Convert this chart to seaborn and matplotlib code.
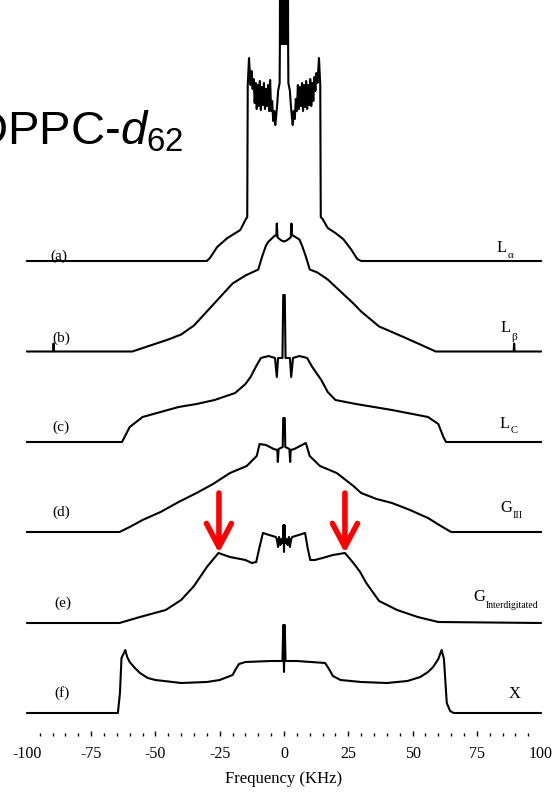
import matplotlib
matplotlib.use("Agg")
import matplotlib.pyplot as plt
import pandas as pd
import seaborn as sns

# ---------------- data (frequency in kHz, intensity above each baseline) ----------------
phases = ["a", "b", "c", "d", "e", "f"]

freq_a = [-100, -30, -28.8, -26, -22, -17, -14.8, -14.3, -14.1, -13.6,
          -13.3, -13.0, -12.6, -12.2, -11.8, -11.4, -11.0, -10.6, -10.2, -9.8, -9.4, -9.0,
          -8.6, -8.2, -7.8, -7.4, -7.0, -6.6, -6.2, -5.8, -5.4, -5.0, -4.6, -4.2, -3.8, -3.4,
          -3.0, -2.6, -2.3, -1.7, -1.6, -1.55,
          1.55, 1.6, 1.7, 2.3, 2.6, 3.0, 3.4, 3.8, 4.2, 4.6, 5.0, 5.4, 5.8, 6.2, 6.6, 7.0,
          7.4, 7.8, 8.2, 8.6, 9.0, 9.4, 9.8, 10.2, 10.6, 11.0, 11.4, 11.8, 12.2, 12.6, 13.0,
          13.3, 13.6, 14.1, 14.3, 15, 17, 20, 23, 26, 28.5, 30, 100]
int_a = [0, 0, 3, 14, 23, 31, 42, 44, 176, 203,
         188, 176, 190, 172, 182, 158, 178, 152, 176, 155, 180, 151,
         174, 156, 178, 152, 172, 155, 176, 150, 181, 150, 160, 140, 150, 136,
         146, 158, 170, 178, 216, 300,
         300, 216, 178, 170, 158, 146, 136, 150, 142, 162, 150, 176, 152, 174, 155, 178,
         150, 176, 154, 180, 152, 176, 156, 182, 155, 178, 160, 184, 170, 188, 178,
         190, 203, 176, 44, 42, 33, 28, 22, 12, 2, 0, 0]
block_a = [-1.9, 1.9]          # solid centre of the isotropic peak in (a)
block_a_from = 216

freq_b = [-100, -89.8, -89.6, -89.4, -59, -52, -45, -40, -35, -30, -25, -20, -15, -10,
          -8.5, -7, -6, -3.5, -3.0, -2.8, -2.5, -1, 0, 1, 2.6, 2.9, 3.1, 3.5, 6, 7, 8.5,
          10, 13, 17, 22, 27, 30, 37, 46, 53, 59, 89.3, 89.5, 89.7, 100]
int_b = [0, 0, 8, 0, 0, 6, 12, 17, 26, 40, 54, 68, 76, 82,
         95, 106, 110, 116, 116, 128, 114, 111, 110, 111, 114, 128, 116, 116, 112, 106, 95,
         82, 79, 72, 60, 48, 40, 25, 15, 7, 0, 0, 8, 0, 0]

freq_c = [-100, -63, -61, -60, -55, -48, -41, -34, -27, -19, -15, -13, -11, -9, -6, -3.5, -2.8,
          -2.3, -0.6, -0.3, 0.3, 0.6, 2.3, 2.8, 3.5, 6, 9, 11, 14.5, 17, 20, 28, 35, 42, 50,
          56, 60, 62, 63, 100]
int_c = [0, 0, 10, 15, 25, 30, 35, 38, 42, 49, 58, 65, 75, 84, 86, 84, 65,
         84, 84, 147, 147, 84, 84, 65, 84, 86, 84, 75, 62, 50, 42, 38, 35, 32, 28,
         25, 18, 5, 0, 0]

freq_d = [-100, -64, -60, -55, -48, -41, -34, -27.6, -21, -14.5, -10.6, -9.5, -7, -4, -2.6,
          -2.4, -2.1, -0.5, -0.3, 0.3, 0.5, 2.1, 2.4, 2.6, 4, 7, 8.5, 10, 14, 20.5, 27, 30,
          36, 42, 49, 56, 61, 65, 100]
int_d = [0, 0, 5, 12, 20, 30, 39, 48, 59, 66, 76, 88, 87, 83, 82,
         70, 83, 85, 114, 114, 85, 83, 70, 82, 83, 87, 89, 76, 66, 59, 46, 39,
         33, 29, 22, 14, 6, 0, 0]

freq_e = [-100, -64, -56, -46, -40, -35, -30, -25.5, -21, -15, -12.5, -10.8, -9.6, -8.2, -7,
          -3.2, -2.8, -2.3, -1.9, -1.4, -1.0, -0.5, -0.2, 0, 0.2, 0.5, 1.0, 1.4, 1.9, 2.3,
          2.8, 3.2, 7, 8.2, 9.2, 10.2, 12, 15, 19, 23.7, 27, 29.6, 32, 37, 44, 52, 60, 100]
int_e = [0, 0, 6, 13, 23, 37, 56, 70, 66, 63, 60, 61, 75, 90, 89,
         86, 84, 76, 86, 78, 84, 80, 98, 71, 98, 80, 84, 78, 86, 76,
         84, 86, 89, 90, 75, 63, 63, 65, 68, 70, 60, 51, 40, 22, 13, 6, 1, 0]

freq_f = [-100, -64.6, -63.8, -63.2, -61.7, -61, -60, -58, -56, -53, -50, -40, -30, -25, -20,
          -18.5, -17.5, -15, -5, -0.6, -0.3, 0, 0.3, 0.6, 5, 16, 17.5, 19, 22, 30, 40, 48, 53,
          56, 58, 60, 61.3, 62.2, 62.8, 63.3, 64.6, 66, 100]
int_f = [0, 0, 20, 55, 63, 56, 51, 45, 40, 35, 33, 30, 31, 33, 38,
         45, 49, 51, 52, 52, 88, 41, 88, 52, 52, 50, 44, 37, 33, 31, 30, 32, 36,
         41, 46, 54, 63, 54, 30, 10, 2, 0, 0]

phase_names = [("L", "\u03b1"), ("L", "\u03b2"), ("L", "C"), ("G", "III"),
               ("G", "Interdigitated"), ("X", "")]
arrow_freqs = [-25.3, 23.7]
tick_values = list(range(-100, 101, 25))
tick_labels = [str(v) for v in tick_values]
minor_values = [v for v in range(-95, 96, 5) if v % 25 != 0]

# ---------------- layout ----------------
W, H = 560, 800
X0, PXK = 284.0, 2.5714            # pixel of 0 kHz, pixels per kHz
AX_BOTTOM = 736                    # pixel row of the tick line
baselines_px = [261, 351.5, 442, 532, 623, 713]
offsets = [AX_BOTTOM - b for b in baselines_px]

sns.set_style("white")
plt.rcParams["font.family"] = ["Liberation Serif", "DejaVu Serif"]
plt.rcParams["text.color"] = "black"
plt.rcParams["axes.labelcolor"] = "black"
plt.rcParams["xtick.color"] = "black"
plt.rcParams["mathtext.fontset"] = "custom"
plt.rcParams["mathtext.rm"] = "Liberation Sans"
plt.rcParams["mathtext.it"] = "Liberation Sans:italic"

fig = plt.figure(figsize=(W / 100, H / 100), dpi=100)
fig.patch.set_facecolor("white")
ax = fig.add_axes([0, (H - AX_BOTTOM) / H, 1, AX_BOTTOM / H])
ax.set_xlim(-X0 / PXK, (W - X0) / PXK)
ax.set_ylim(0, AX_BOTTOM)

all_f = [freq_a, freq_b, freq_c, freq_d, freq_e, freq_f]
all_i = [int_a, int_b, int_c, int_d, int_e, int_f]
rows = []
for name, fr, it, off in zip(phases, all_f, all_i, offsets):
    for f, i in zip(fr, it):
        rows.append((name, f, i + off))
df = pd.DataFrame(rows, columns=["phase", "freq", "y"])

sns.lineplot(data=df, x="freq", y="y", units="phase", estimator=None, sort=False,
             color="black", linewidth=1.5, legend=False, ax=ax)
ax.fill_between(block_a, offsets[0] + block_a_from, offsets[0] + 400, color="black", lw=0)

# arrows in (e)
for f in arrow_freqs:
    ax.annotate("", xy=(f, AX_BOTTOM - 553), xytext=(f, AX_BOTTOM - 493),
                arrowprops=dict(arrowstyle="->,head_length=0.85,head_width=0.45",
                                color="#ff0000", lw=4, shrinkA=0, shrinkB=0,
                                mutation_scale=20))

# axis
for s in ax.spines.values():
    s.set_visible(False)
ax.yaxis.set_visible(False)
ax.set_xticks(tick_values)
ax.set_xticklabels(tick_labels)
ax.set_xticks(minor_values, minor=True)
ax.tick_params(axis="x", which="major", direction="in", length=3.8, width=1.0, pad=7.5,
               labelsize=11.5, colors="black", bottom=True)
ax.tick_params(axis="x", which="minor", direction="in", length=2.3, width=1.0, bottom=True,
               colors="black")
mt = ax.xaxis.get_major_ticks()
mt[0].tick1line.set_visible(False)
mt[-1].tick1line.set_visible(False)
ax.set_xlabel("Frequency (KHz)", fontsize=12, color="black")
ax.xaxis.set_label_coords(X0 / W, -(771 - AX_BOTTOM) / AX_BOTTOM)
ax.set_ylabel("")


def ftext(px, py, s, **kw):
    fig.text(px / W, 1 - py / H, s, color="black", **kw)


# title
ftext(183, 145, r"DPPC-$\mathit{d}_{62}$", ha="right", va="baseline", fontsize=34,
      family="Liberation Sans", math_fontfamily="custom")

# letter labels
letter_pos = [(59, 256), (61, 338), (61, 427), (61, 512), (63, 603), (62, 693)]
for name, (px, py) in zip(phases, letter_pos):
    ftext(px, py, f"({name})", ha="center", va="center", fontsize=11)

# phase labels
main_pos = [(502, 248), (506, 328), (505, 424), (506, 508), (479, 597), (515, 694)]
sub_pos = [(508, 256), (511, 337), (511, 431), (513, 516), (486, 605), (0, 0)]
sub_size = [8, 8, 7.5, 7.5, 7, 7]
for (m, s), (mx, my), (sx, sy), ss in zip(phase_names, main_pos, sub_pos, sub_size):
    ftext(mx, my, m, ha="center", va="center", fontsize=12)
    if s:
        ftext(sx, sy, s, ha="left", va="center", fontsize=ss)

fig.savefig("out.png", dpi=100, facecolor="white")
